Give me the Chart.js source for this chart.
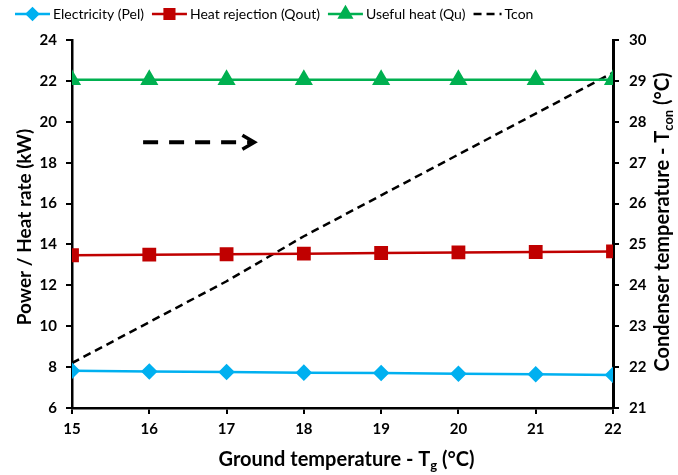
<!DOCTYPE html>
<html>
<head>
<meta charset="utf-8">
<script src="https://cdn.jsdelivr.net/npm/chart.js@4.4.0/dist/chart.umd.min.js"></script>
<style>
  html, body { margin: 0; padding: 0; background: #fff; }
  #wrap { width: 678px; height: 475px; }
</style>
</head>
<body>
<div id="wrap"><canvas id="chart"></canvas></div>
<script>
// ---- data ----
const groundTemp    = [15, 16, 17, 18, 19, 20, 21, 22];
const electricity   = [7.82, 7.79, 7.76, 7.73, 7.71, 7.68, 7.65, 7.62];
const heatRejection = [13.47, 13.50, 13.52, 13.55, 13.58, 13.61, 13.63, 13.66];
const usefulHeat    = [22.05, 22.05, 22.05, 22.05, 22.05, 22.05, 22.05, 22.05];
const tCon          = [22.1, 23.1, 24.1, 25.2, 26.2, 27.2, 28.2, 29.2];

const leftTicks  = [6, 8, 10, 12, 14, 16, 18, 20, 22, 24];
const rightTicks = [21, 22, 23, 24, 25, 26, 27, 28, 29, 30];

// dashed arrow annotation (data coords)
const arrowStart = { x: 15.92, y: 19 };
const arrowEnd   = { x: 17.36, y: 19 };

const FONT = "Lato, 'Open Sans', sans-serif";

function pts(ys) {
  return groundTemp.map((x, i) => ({ x, y: ys[i] }));
}

// ------------------------------------------------------------
// Plugins: legend, titles with subscripts, arrow
// ------------------------------------------------------------
const legendPlugin = {
  id: "customLegend",
  afterDraw(chart) {
    const ctx = chart.ctx;
    ctx.save();
    ctx.font = "14px " + FONT;
    ctx.textBaseline = "middle";
    let x = 15;
    const y = 14;
    chart.data.datasets.forEach(ds => {
      const w = ds.yAxisID === "y1" ? 28 : 35;
      ctx.strokeStyle = ds.borderColor;
      ctx.lineWidth = 2.5;
      ctx.setLineDash(ds.borderDash || []);
      ctx.beginPath();
      ctx.moveTo(x, y);
      ctx.lineTo(x + w, y);
      ctx.stroke();
      ctx.setLineDash([]);
      if (ds.pointRadius) {
        ctx.fillStyle = ds.backgroundColor;
        Chart.helpers.drawPoint(ctx, {
          pointStyle: ds.pointStyle,
          radius: ds.pointRadius * 0.85,
          borderWidth: 1
        }, x + w / 2, y);
      }
      ctx.fillStyle = "#000";
      ctx.fillText(ds.label, x + w + 3, y);
      x += w + 3 + ctx.measureText(ds.label).width + 8;
    });
    ctx.restore();
  }
};

// draws "main + sub + rest" centred at (0,0) in current transform
function drawSubText(ctx, main, sub, rest, size) {
  const big = "bold " + size + "px " + FONT;
  const small = "bold " + Math.round(size * 0.65) + "px " + FONT;
  ctx.font = big;
  const w1 = ctx.measureText(main).width;
  const w3 = ctx.measureText(rest).width;
  ctx.font = small;
  const w2 = ctx.measureText(sub).width;
  let x = -(w1 + w2 + w3) / 2;
  ctx.textBaseline = "middle";
  ctx.textAlign = "left";
  ctx.font = big;
  ctx.fillText(main, x, 0);
  x += w1;
  ctx.font = small;
  ctx.fillText(sub, x, size * 0.3);
  x += w2;
  ctx.font = big;
  ctx.fillText(rest, x, 0);
}

const titlePlugin = {
  id: "axisTitles",
  afterDraw(chart) {
    const ctx = chart.ctx;
    const a = chart.chartArea;
    ctx.save();
    ctx.fillStyle = "#000";

    // x title
    ctx.save();
    ctx.translate((a.left + a.right) / 2 + 4, 460);
    drawSubText(ctx, "Ground temperature - T", "g", " (\u00B0C)", 20);
    ctx.restore();

    // left title
    ctx.save();
    ctx.translate(25, (a.top + a.bottom) / 2 + 3);
    ctx.rotate(-Math.PI / 2);
    drawSubText(ctx, "Power / Heat rate (kW)", "", "", 19);
    ctx.restore();

    // right title
    ctx.save();
    ctx.translate(663, (a.top + a.bottom) / 2 - 2);
    ctx.rotate(-Math.PI / 2);
    drawSubText(ctx, "Condenser temperature - T", "con", " (\u00B0C)", 20);
    ctx.restore();

    ctx.restore();
  }
};

const arrowPlugin = {
  id: "arrow",
  afterDatasetsDraw(chart) {
    const ctx = chart.ctx;
    const xs = chart.scales.x, ys = chart.scales.y;
    const x0 = xs.getPixelForValue(arrowStart.x);
    const x1 = xs.getPixelForValue(arrowEnd.x);
    const yy = ys.getPixelForValue(arrowStart.y);
    ctx.save();
    ctx.strokeStyle = "#000";
    ctx.lineWidth = 4;
    ctx.setLineDash([15, 11]);
    ctx.beginPath();
    ctx.moveTo(x0, yy);
    ctx.lineTo(x1 - 2, yy);
    ctx.stroke();
    ctx.setLineDash([]);
    ctx.lineWidth = 3.5;
    ctx.beginPath();
    ctx.moveTo(x1 - 12, yy - 7);
    ctx.lineTo(x1, yy);
    ctx.lineTo(x1 - 12, yy + 7);
    ctx.stroke();
    ctx.restore();
  }
};

// ------------------------------------------------------------
// Chart
// ------------------------------------------------------------
const tickFont = { family: FONT, size: 15, weight: "bold" };

new Chart(document.getElementById("chart"), {
  type: "line",
  data: {
    datasets: [
      {
        label: "Electricity (Pel)",
        data: pts(electricity),
        borderColor: "#00B0F0",
        backgroundColor: "#00B0F0",
        borderWidth: 2.5,
        pointStyle: "rectRot",
        pointRadius: 6.5,
        yAxisID: "y"
      },
      {
        label: "Heat rejection (Qout)",
        data: pts(heatRejection),
        borderColor: "#C00000",
        backgroundColor: "#C00000",
        borderWidth: 2.5,
        pointStyle: "rect",
        pointRadius: 8,
        yAxisID: "y"
      },
      {
        label: "Useful heat (Qu)",
        data: pts(usefulHeat),
        borderColor: "#00B050",
        backgroundColor: "#00B050",
        borderWidth: 2.5,
        pointStyle: "triangle",
        pointRadius: 8,
        yAxisID: "y"
      },
      {
        label: "Tcon",
        data: pts(tCon),
        borderColor: "#000",
        backgroundColor: "#000",
        borderWidth: 2.5,
        borderDash: [8, 5],
        pointRadius: 0,
        yAxisID: "y1"
      }
    ]
  },
  options: {
    responsive: true,
    maintainAspectRatio: false,
    animation: false,
    layout: { padding: { top: 40, left: 0, right: 0, bottom: 0 } },
    plugins: { legend: { display: false }, tooltip: { enabled: false } },
    elements: { line: { tension: 0 } },
    scales: {
      x: {
        type: "linear",
        min: 15,
        max: 22,
        afterFit: s => { s.height = 67; },
        afterBuildTicks: s => { s.ticks = groundTemp.map(v => ({ value: v })); },
        ticks: { color: "#000", font: tickFont, padding: 6 },
        grid: { drawOnChartArea: false, color: "#000", lineWidth: 2, tickLength: 6 },
        border: { color: "#000", width: 2.5 }
      },
      y: {
        position: "left",
        min: 6,
        max: 24,
        afterFit: s => { s.width = 72; },
        afterBuildTicks: s => { s.ticks = leftTicks.map(v => ({ value: v })); },
        ticks: { color: "#000", font: tickFont, padding: 9 },
        grid: { drawOnChartArea: false, color: "#000", lineWidth: 2, tickLength: 6 },
        border: { color: "#000", width: 2.5 }
      },
      y1: {
        position: "right",
        min: 21,
        max: 30,
        afterFit: s => { s.width = 65; },
        afterBuildTicks: s => { s.ticks = rightTicks.map(v => ({ value: v })); },
        ticks: { color: "#000", font: tickFont, padding: 10 },
        grid: { drawOnChartArea: false, color: "#000", lineWidth: 2, tickLength: 6 },
        border: { color: "#000", width: 3, dash: [10, 7] }
      }
    }
  },
  plugins: [legendPlugin, titlePlugin, arrowPlugin]
});
</script>
</body>
</html>
